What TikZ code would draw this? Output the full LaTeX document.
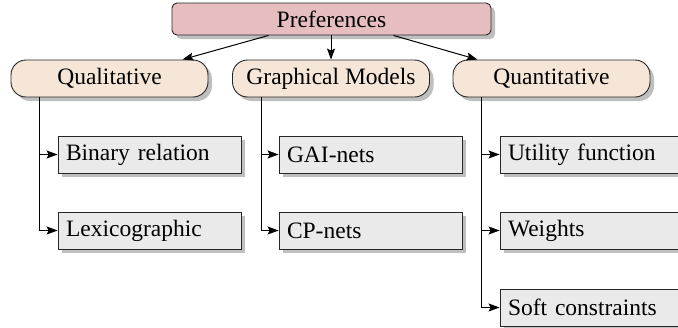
\documentclass[tikz,border=0pt]{standalone}
\usepackage{fontspec}
\setmainfont{Liberation Serif}
\usetikzlibrary{arrows.meta,shadows}
\definecolor{prefpink}{RGB}{230,190,192}
\definecolor{catbeige}{RGB}{246,230,216}
\definecolor{leafgray}{RGB}{234,234,234}
\begin{document}
\begin{tikzpicture}[x=1pt,y=1pt,
  font=\fontsize{23.5}{28}\selectfont,
  box/.style={draw=black!85, line width=0.9pt,
    drop shadow={shadow xshift=4pt, shadow yshift=-4pt, fill=black!25, opacity=1}},
  root/.style={box, fill=prefpink, rounded corners=5pt, minimum width=319pt, minimum height=32pt},
  cat/.style={box, fill=catbeige, rounded corners=15pt, minimum width=197pt, minimum height=37pt},
  leaf/.style={box, fill=leafgray, minimum height=37pt, text width=167pt, inner xsep=8pt, align=left},
  conn/.style={line width=1pt, -{Stealth[length=11pt,width=8pt,inset=2pt]}}]
\useasboundingbox (0,0) rectangle (678,-327);
\node[root] (pref) at (331.5,-19) {Preferences};
\node[cat] (qual) at (109.5,-78.5) {Qualitative};
\node[cat] (graph) at (331,-78.5) {Graphical Models};
\node[cat] (quant) at (551.5,-78.5) {Quantitative};
\node[leaf] (bin) at (149.5,-154.5) {Binary relation};
\node[leaf] (lex) at (149.5,-230.5) {Lexicographic};
\node[leaf] (gai) at (370.5,-154.5) {GAI-nets};
\node[leaf] (cp) at (370.5,-230.5) {CP-nets};
\node[leaf] (util) at (591.5,-154.5) {Utility function};
\node[leaf] (wts) at (591.5,-230.5) {Weights};
\node[leaf] (soft) at (591.5,-307.5) {Soft constraints};
\draw[conn] ([xshift=-63pt]pref.south) -- ([xshift=73pt]qual.north);
\draw[conn] ([xshift=-0.5pt]pref.south) -- (graph.north);
\draw[conn] ([xshift=62pt]pref.south) -- ([xshift=-74pt]quant.north);
\draw[conn] ([xshift=29pt]qual.south west) |- (bin.west);
\draw[conn] ([xshift=29pt]qual.south west) |- (lex.west);
\draw[conn] ([xshift=29pt]graph.south west) |- (gai.west);
\draw[conn] ([xshift=29pt]graph.south west) |- (cp.west);
\draw[conn] ([xshift=29pt]quant.south west) |- (util.west);
\draw[conn] ([xshift=29pt]quant.south west) |- (wts.west);
\draw[conn] ([xshift=29pt]quant.south west) |- (soft.west);
\end{tikzpicture}
\end{document}
